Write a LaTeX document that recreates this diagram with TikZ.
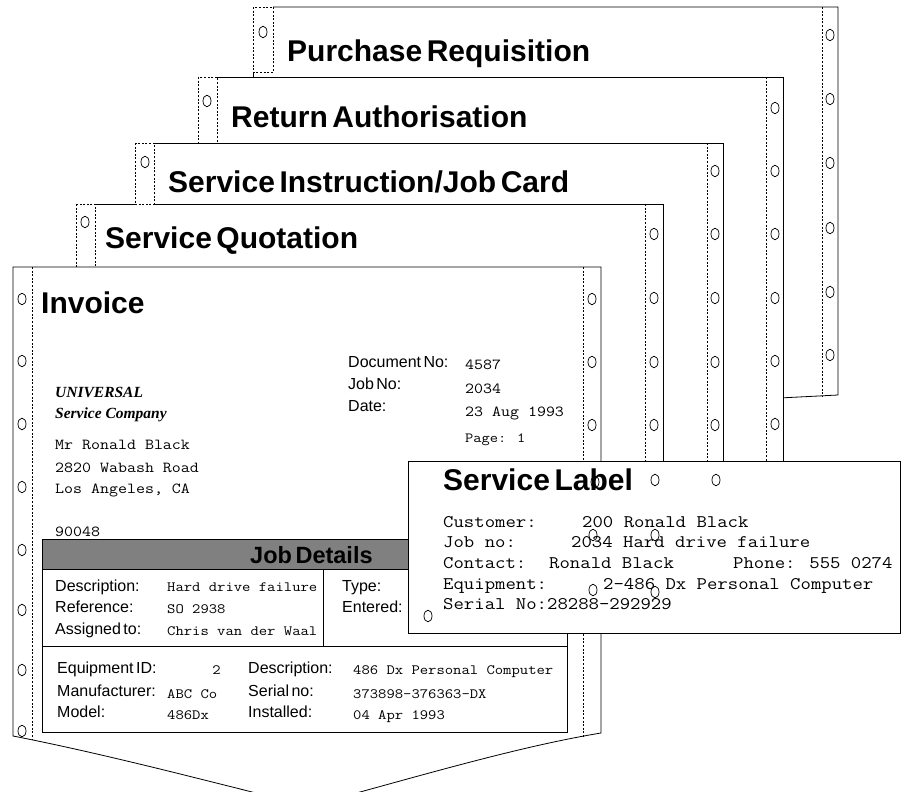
\documentclass[tikz,border=0pt]{standalone}
\usepackage{fontspec}
\setmainfont{Liberation Sans}[WordSpace=0.55]
\newfontfamily\cour{Latin Modern Mono}[FakeStretch=1.14]
\newfontfamily\tms{Liberation Serif}
\definecolor{band}{RGB}{128,128,128}
\tikzset{
  edge/.style={draw=black, line width=0.8pt},
  perf/.style={draw=black, line width=0.6pt, dash pattern=on 2pt off 1.6pt},
  hole/.style={draw=black, line width=0.75pt},
  ttl/.style={anchor=base west, inner sep=0pt, font=\fontsize{30}{32}\selectfont\bfseries},
  lbl/.style={anchor=base west, inner sep=0pt, font=\fontsize{16}{18}\selectfont},
  val/.style={anchor=base west, inner sep=0pt, font=\cour\fontsize{15.3}{17}\selectfont},
  sval/.style={anchor=base west, inner sep=0pt, font=\cour\fontsize{14.2}{16}\selectfont},
  tag/.style={anchor=base west, inner sep=0pt, font=\cour\fontsize{17.7}{20}\selectfont},
  firm/.style={anchor=base west, inner sep=0pt, font=\tms\fontsize{15.5}{17}\selectfont\bfseries\itshape},
}
\newcommand\punch[2]{\draw[hole] (#1,#2) ellipse [x radius=4pt, y radius=5.8pt];}
\begin{document}
\begin{tikzpicture}[x=1pt,y=-1pt]
\useasboundingbox (0,0) rectangle (906,792);
\clip (0,0) rectangle (906,792);
\fill[white] (0,0) rectangle (906,792);

% ---- Purchase Requisition (rearmost sheet)
\fill[white] (253,7) -- (838,7) -- (838,395) -- (253,425) -- cycle;
\draw[edge] (273,7) -- (838,7) -- (838,395) -- (760,399);
\draw[perf] (253,7) rectangle (273,72);
\draw[edge] (253,72) -- (253,77);
\draw[perf] (822,7) -- (822,396);
\punch{263}{32}
\foreach \y in {35,99,163,228,292,355} {\punch{830}{\y}}
\node[ttl] (prt) at (287,62) {Purchase Requisition};

% ---- Return Authorisation
\fill[white] (198,77) rectangle (783,600);
\draw[edge] (217,77) -- (783,77) -- (783,600);
\draw[perf] (198,77) rectangle (217,143);
\draw[perf] (766,77) -- (766,600);
\punch{207}{101}
\foreach \y in {108,171,234,298,361,424} {\punch{775}{\y}}
\node[ttl] (rat) at (231,128) {Return Authorisation};

% ---- Service Instruction / Job Card
\fill[white] (135,143) rectangle (723,600);
\draw[edge] (154,143) -- (723,143) -- (723,600);
\draw[perf] (135,143) rectangle (154,204);
\draw[perf] (707,143) -- (707,600);
\punch{145}{162}
\foreach \y in {171,234,298,362,425} {\punch{715}{\y}}
\node[ttl] (sit) at (168,192) {Service Instruction/Job Card};

% ---- Service Quotation
\fill[white] (76,204) rectangle (663,600);
\draw[edge] (95,204) -- (663,204) -- (663,600);
\draw[white, line width=1.4pt] (135,204) -- (154,204);
\draw[perf] (135,204) -- (154,204);
\draw[perf] (76,204) rectangle (95,267);
\draw[perf] (645,204) -- (645,600);
\punch{85}{222}
\foreach \y in {234,298,362,425} {\punch{654}{\y}}
\node[ttl] (sqt) at (105,248) {Service Quotation};

% ---- Invoice (front sheet)
\path[edge, fill=white] (13,267) -- (601,267) -- (601,733)
  .. controls (510,748) and (400,782) .. (308,806)
  .. controls (215,783) and (110,755) .. (13,736) -- cycle;
\draw[perf] (32,267) -- (32,740);
\draw[perf] (583,267) -- (583,737);
\foreach \y in {299,361,424,487,550,610,670,731} {\punch{22}{\y}}
\foreach \y in {299,362,425} {\punch{592}{\y}}
\node[ttl] (inv) at (41,313) {Invoice};

\node[lbl] (docl) at (348,367) {Document No:};
\node[lbl] (jobl) at (348,389) {Job No:};
\node[lbl] (datl) at (348,411) {Date:};
\node[val] (docv) at (465,369) {4587};
\node[val] (jobv) at (465,393) {2034};
\node[val] (datv) at (465,416) {23 Aug 1993};
\node[anchor=base west, inner sep=0pt, font=\cour\fontsize{14}{16}\selectfont] (page) at (465,442) {Page: 1};

\node[firm] (co1) at (55,397) {UNIVERSAL};
\node[firm] (co2) at (55,418) {Service Company};
\node[val] (ad1) at (55,449) {Mr Ronald Black};
\node[val] (ad2) at (55,472) {2820 Wabash Road};
\node[val] (ad3) at (55,493) {Los Angeles, CA};
\node[val] (ad4) at (55,536) {90048};

% job details table
\draw[edge, fill=band] (42,539) rectangle (567,569);
\node[anchor=base west, inner sep=0pt, font=\fontsize{23.5}{26}\selectfont\bfseries] (jd) at (250,563) {Job Details};
\draw[edge] (42,569) rectangle (567,646);
\draw[edge] (323,569) -- (323,646);
\node[lbl] (d1) at (55,591) {Description:};
\node[lbl] (d2) at (55,612) {Reference:};
\node[lbl] (d3) at (55,634) {Assigned to:};
\node[sval] (v1) at (167,591) {Hard drive failure};
\node[sval] (v2) at (167,613) {SO 2938};
\node[sval] (v3) at (167,635) {Chris van der Waal};
\node[lbl] (t1) at (342,591) {Type:};
\node[lbl] (t2) at (342,612) {Entered:};

% equipment table
\draw[edge] (42,646) rectangle (567,732);
\node[lbl] (e1) at (57,673) {Equipment ID:};
\node[lbl] (e2) at (57,696) {Manufacturer:};
\node[lbl] (e3) at (57,717) {Model:};
\node[sval, anchor=base east] (f1) at (221,674) {2};
\node[sval] (f2) at (167,698) {ABC Co};
\node[sval] (f3) at (167,719) {486Dx};
\node[lbl] (e4) at (248,673) {Description:};
\node[lbl] (e5) at (248,696) {Serial no:};
\node[lbl] (e6) at (248,717) {Installed:};
\node[sval] (f4) at (353,674) {486 Dx Personal Computer};
\node[sval] (f5) at (353,698) {373898-376363-DX};
\node[sval] (f6) at (353,719) {04 Apr 1993};

% ---- Service Label laid on top
\draw[edge, fill=white] (408,461) rectangle (900,633);
\node[ttl] (slt) at (443,490) {Service Label};
\node[tag] (s1) at (443,527) {Customer:};
\node[tag] (s1v) at (582,527) {200 Ronald Black};
\node[tag] (s2) at (443,547) {Job no:};
\node[tag] (s2v) at (571,547) {2034 Hard drive failure};
\node[tag] (s3) at (443,568) {Contact:};
\node[tag] (s3v) at (549,568) {Ronald Black};
\node[tag] (s3p) at (733,568) {Phone: 555 0274};
\node[tag] (s4) at (443,589) {Equipment:};
\node[tag] (s4v) at (603,589) {2-486 Dx Personal Computer};
\node[tag] (s5) at (443,609) {Serial No:28288-292929};

% punched holes showing over the label
\punch{595}{482}
\punch{655}{480}
\punch{716}{480}
\punch{593}{535}
\punch{655}{535}
\punch{593}{590}
\punch{655}{592}
\punch{428}{616}
\end{tikzpicture}
\end{document}
